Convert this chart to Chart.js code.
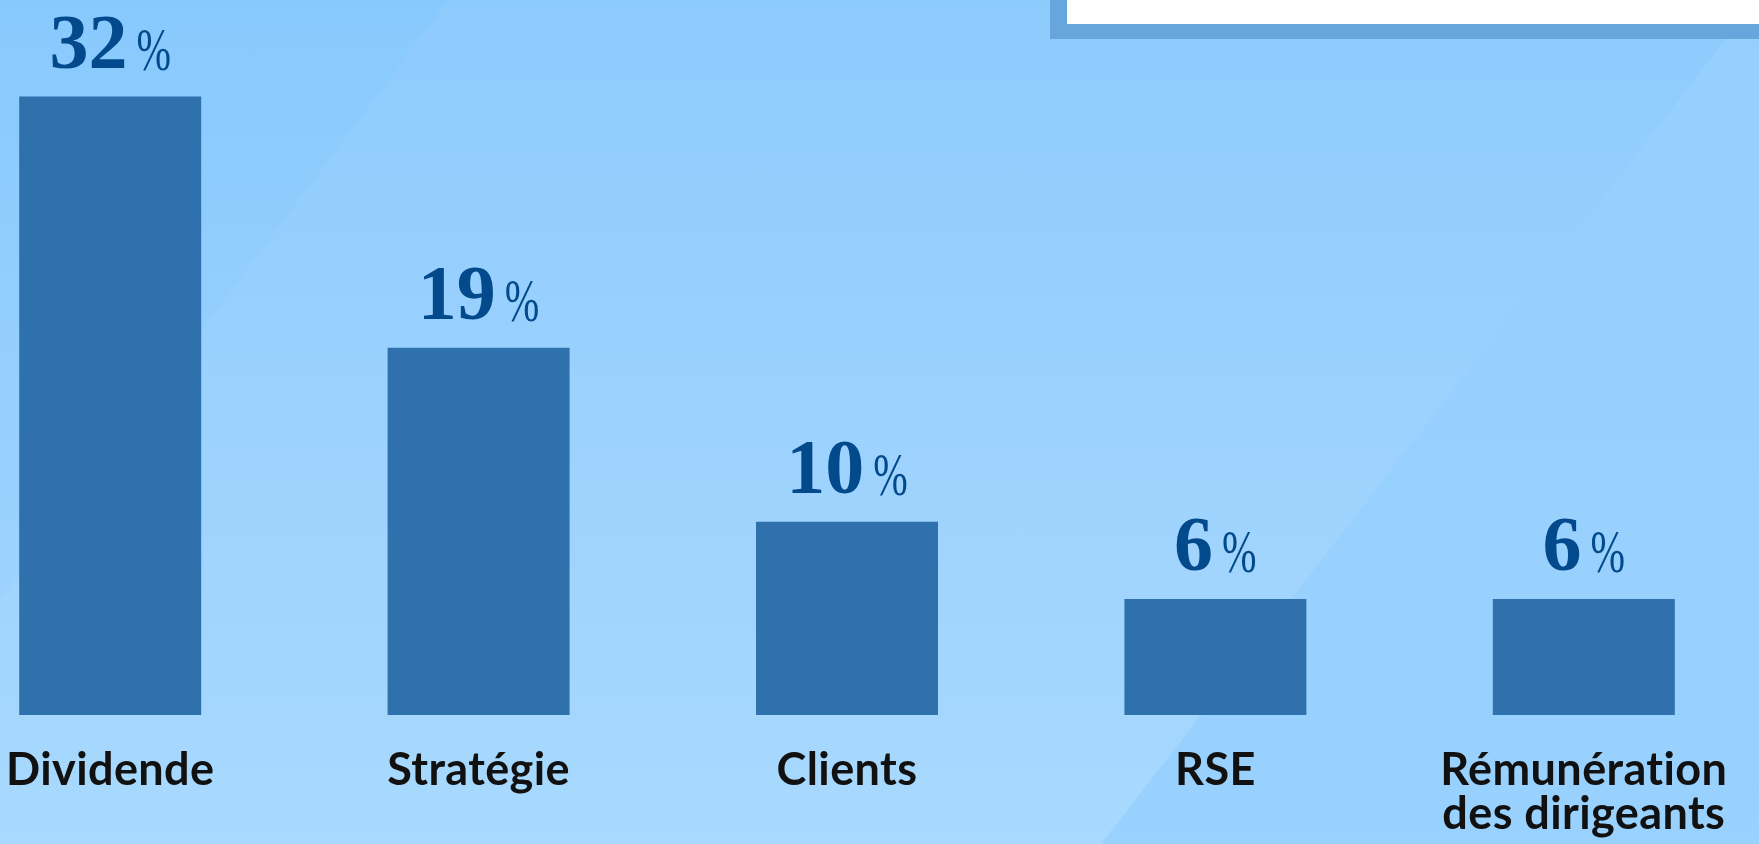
<!DOCTYPE html>
<html lang="fr">
<head>
<meta charset="utf-8">
<title>Sujets abordés</title>
<script src="https://cdn.jsdelivr.net/npm/chart.js@4/dist/chart.umd.min.js"></script>
<style>
  html, body { margin: 0; padding: 0; width: 1759px; height: 844px; overflow: hidden; }
  body { position: relative; background: linear-gradient(to bottom, #88c9fd, #a5d7fe); }
  .shape { position: absolute; left: 0; top: 0; width: 1759px; height: 844px; }
  /* lighter band right of the first diagonal */
  .band { background: rgba(255, 255, 255, 0.05); clip-path: polygon(448px 0, 1759px 0, 1759px 844px, 0 844px, 0 600px); }
  /* flat tone on the right side */
  .corner { background: rgba(150, 208, 254, 0.85); clip-path: polygon(1756px 0, 1759px 0, 1759px 844px, 1101px 844px); }
  .titlebox {
    position: absolute; left: 1050px; top: -20px; width: 760px; height: 44px;
    background: #fff; border-left: 17px solid #66a6dc; border-bottom: 15px solid #66a6dc;
  }
  .wrap { position: absolute; left: -74px; top: 0; width: 1842px; height: 844px; }
</style>
</head>
<body>
<div class="shape band"></div>
<div class="shape corner"></div>
<div class="titlebox"></div>
<div class="wrap"><canvas id="chart"></canvas></div>
<script>
// share of questions by topic (%)
const topics = ["Dividende", "Stratégie", "Clients", "RSE", ["Rémunération", "des dirigeants"]];
const shares = [32, 19, 10, 6, 6];

// a little tracking on the canvas text (also keeps Lato from joining "ti")
const tracking = {
  id: "tracking",
  beforeDraw(chart) { chart.ctx.letterSpacing = "0.4px"; }
};

// value labels above the bars: big bold number + thin "%"
const valueLabels = {
  id: "valueLabels",
  afterDatasetsDraw(chart) {
    const ctx = chart.ctx;
    const meta = chart.getDatasetMeta(0);
    const numFont = "bold 78px 'Liberation Serif', serif";
    const pctFont = "61px 'Liberation Serif', serif";
    const squeeze = 0.68;
    const gap = 9;
    ctx.save();
    ctx.letterSpacing = "0px";
    ctx.fillStyle = "#034a8c";
    ctx.textBaseline = "alphabetic";
    ctx.textAlign = "left";
    meta.data.forEach((bar, i) => {
      const num = String(shares[i]);
      ctx.font = numFont;
      const wNum = ctx.measureText(num).width;
      ctx.font = pctFont;
      const wPct = ctx.measureText("%").width * squeeze;
      const start = bar.x - (wNum + gap + wPct) / 2;
      const base = bar.y - 29;
      ctx.font = numFont;
      ctx.fillText(num, start, base);
      ctx.font = pctFont;
      ctx.save();
      ctx.translate(start + wNum + gap, base + 2);
      ctx.scale(squeeze, 1);
      ctx.fillText("%", 0, 0);
      ctx.restore();
    });
    ctx.restore();
  }
};

new Chart(document.getElementById("chart"), {
  type: "bar",
  data: {
    labels: topics,
    datasets: [{
      data: shares,
      backgroundColor: "#2e71ad",
      borderWidth: 0,
      barPercentage: 0.494,
      categoryPercentage: 1
    }]
  },
  options: {
    responsive: true,
    maintainAspectRatio: false,
    animation: false,
    layout: { padding: 0 },
    plugins: {
      legend: { display: false },
      tooltip: { enabled: false }
    },
    scales: {
      x: {
        grid: { display: false },
        border: { display: false },
        ticks: {
          color: "#111",
          font: { family: "Lato", weight: "bold", size: 45, lineHeight: "44px" },
          padding: 25,
          autoSkip: false,
          maxRotation: 0
        },
        afterFit: (scale) => { scale.height = 129; }
      },
      y: {
        display: false,
        min: 0,
        max: 37
      }
    }
  },
  plugins: [tracking, valueLabels]
});
</script>
</body>
</html>
